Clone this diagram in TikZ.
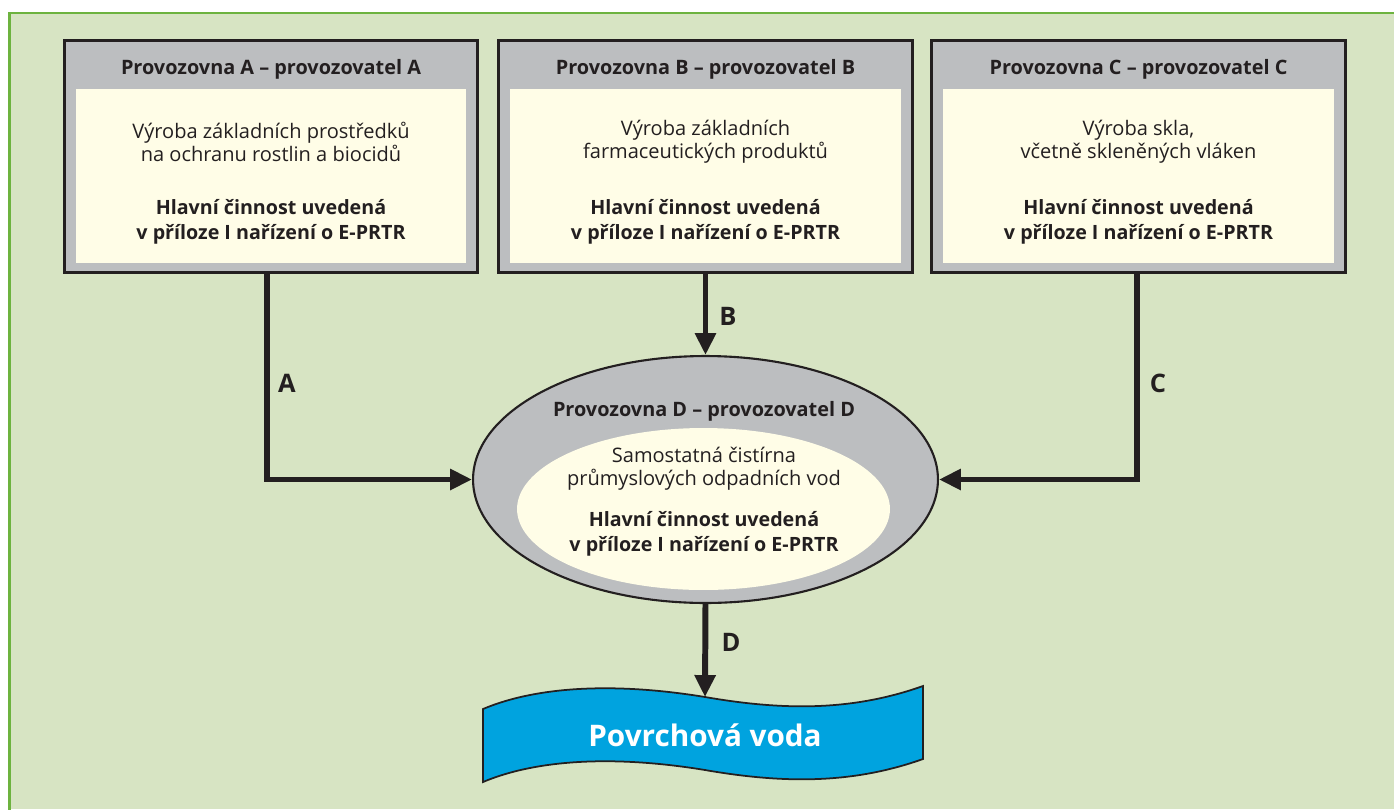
\documentclass[tikz,border=0pt]{standalone}
\usepackage{fontspec}
\setmainfont{Open Sans}
\usetikzlibrary{shapes.geometric,arrows.meta,calc}
\definecolor{bggreen}{HTML}{D7E4C3}
\definecolor{framegreen}{HTML}{6DB33F}
\definecolor{boxgray}{HTML}{BCBEC0}
\definecolor{paleyellow}{HTML}{FFFDE7}
\definecolor{darkline}{HTML}{231F20}
\definecolor{riverblue}{HTML}{00A3DF}
\tikzset{
  outerbox/.style={draw=darkline, line width=1.7pt, fill=boxgray, minimum width=8.28cm, minimum height=4.66cm, inner sep=0},
  innerbox/.style={fill=paleyellow, minimum width=7.82cm, minimum height=3.48cm, inner sep=0},
  titletext/.style={font=\fontsize{11.3}{13}\selectfont\bfseries, text=darkline},
  plaintext/.style={font=\fontsize{11.4}{13}\selectfont, align=center, text=darkline},
  boldtext/.style={font=\fontsize{11.2}{14.4}\selectfont\bfseries, align=center, text=darkline},
  flowlabel/.style={font=\fontsize{14.5}{18}\selectfont\bfseries, text=darkline},
  flow/.style={draw=darkline, line width=3.4pt, -{Triangle[length=12.5pt,width=11.5pt]}}
}
\newcommand{\provozovna}[3]{%
\node[outerbox] (box#2) at (#1,156.5) {};
\node[innerbox] (in#2) at (#1,176) {};
\node[titletext] (title#2) at (#1,69) {Provozovna #2 – provozovatel #2};
\node[plaintext] (desc#2) at (#1,142) {#3};
\node[boldtext] (main#2) at (#1,222) {Hlavní činnost uvedená\\v příloze I nařízení o E-PRTR};
}

\begin{document}
\begin{tikzpicture}[x=0.02cm,y=-0.02cm]
\useasboundingbox (0,0) rectangle (1394,809);
\fill[white] (0,0) rectangle (1394,809);
\fill[bggreen] (9.5,13) rectangle (1394,809);
\draw[framegreen, line width=1.6pt] (1400,13) -- (9.5,13) -- (9.5,815);

\provozovna{271}{A}{Výroba základních prostředků\\na ochranu rostlin a biocidů}
\provozovna{705.5}{B}{Výroba základních\\farmaceutických produktů}
\provozovna{1138.5}{C}{Výroba skla,\\včetně skleněných vláken}

% provozovna D
\node[ellipse, draw=darkline, line width=1.2pt, fill=boxgray, minimum width=9.3cm, minimum height=4.94cm, inner sep=0] (ellD) at (705.5,479.5) {};
\node[ellipse, fill=paleyellow, minimum width=7.46cm, minimum height=3.24cm, inner sep=0] (ellIn) at (703.5,509) {};
\node[titletext] (titleD) at (704,411) {Provozovna D – provozovatel D};
\node[plaintext] (descD) at (704,469) {Samostatná čistírna\\průmyslových odpadních vod};
\node[boldtext] (mainD) at (704,534) {Hlavní činnost uvedená\\v příloze I nařízení o E-PRTR};

% povrchova voda
\fill[riverblue, draw=darkline, line width=1pt] (483,709) .. controls (540,685) and (620,683) .. (705,697) .. controls (780,710) and (850,712) .. (923,686) -- (923,759) .. controls (850,785) and (780,783) .. (705,770) .. controls (620,756) and (540,758) .. (483,782) -- cycle;
\node[font=\fontsize{16.9}{20}\selectfont\bfseries, text=white] (river) at (705,735) {Povrchová voda};
\coordinate (riverTop) at (705,697);

\draw[flow] ($(boxA.south)+(-4,0)$) |- (ellD.west);
\draw[flow] (boxB.south) -- (ellD.north);
\draw[flow] ($(boxC.south)+(-1.5,0)$) |- (ellD.east);
\draw[flow] (ellD.south) -- (riverTop);

\node[flowlabel] (labA) at (287,383) {A};
\node[flowlabel] (labB) at (728,316) {B};
\node[flowlabel] (labC) at (1158,383) {C};
\node[flowlabel] (labD) at (731,642) {D};

\end{tikzpicture}
\end{document}
